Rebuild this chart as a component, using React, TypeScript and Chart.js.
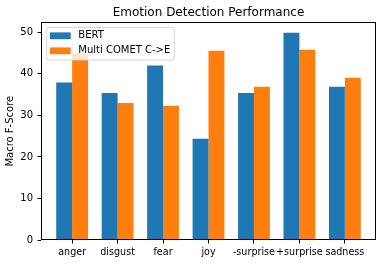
import React, { useEffect, useRef } from "react";
import { Chart, registerables } from "chart.js";

Chart.register(...registerables);

const categories = ["anger", "disgust", "fear", "joy", "-surprise", "+surprise", "sadness"];
const bertScores = [37.9, 35.4, 42.0, 24.4, 35.4, 49.9, 36.9];
const cometScores = [45.0, 33.0, 32.3, 45.6, 36.9, 45.8, 39.1];
const seriesLabels = ["BERT", "Multi COMET C->E"];
const seriesColors = ["#1f77b4", "#ff7f0e"];
const yTicks = [0, 10, 20, 30, 40, 50];
const yMax = 52.4;
const chartTitle = "Emotion Detection Performance";

const FONT = "'DejaVu Sans', sans-serif";

const framePlugin = {
  id: "frameAndLegend",
  afterDraw(chart: any) {
    const { ctx, chartArea } = chart;
    ctx.save();
    // axes frame
    const l = Math.round(chartArea.left) + 0.5;
    const t = Math.round(chartArea.top) + 0.5;
    const r = Math.round(chartArea.right) - 0.5;
    const b = Math.round(chartArea.bottom) - 0.5;
    ctx.strokeStyle = "#000";
    ctx.lineWidth = 1;
    ctx.strokeRect(l, t, r - l, b - t);

    // title centred over the axes
    ctx.font = `12px ${FONT}`;
    ctx.fillStyle = "#000";
    ctx.textAlign = "center";
    ctx.textBaseline = "middle";
    ctx.fillText(chartTitle, (chartArea.left + chartArea.right) / 2, chartArea.top - 9.6);

    // legend inside upper-left
    ctx.font = `10px ${FONT}`;
    const items = chart.data.datasets.map((d: any) => ({ label: d.label, color: d.backgroundColor }));
    const textW = Math.max(...items.map((i: any) => ctx.measureText(i.label).width));
    const x0 = chartArea.left + 5.7;
    const y0 = chartArea.top + 5;
    const padL = 3.3, handleW = 20.7, gap = 7.6, padR = 4;
    const rowH = 15, firstRow = 8.4, padB = 9.3;
    const w = padL + handleW + gap + textW + padR;
    const h = firstRow + rowH * (items.length - 1) + padB;
    const rad = 2.5;
    ctx.beginPath();
    ctx.moveTo(x0 + rad, y0);
    ctx.lineTo(x0 + w - rad, y0);
    ctx.arcTo(x0 + w, y0, x0 + w, y0 + rad, rad);
    ctx.lineTo(x0 + w, y0 + h - rad);
    ctx.arcTo(x0 + w, y0 + h, x0 + w - rad, y0 + h, rad);
    ctx.lineTo(x0 + rad, y0 + h);
    ctx.arcTo(x0, y0 + h, x0, y0 + h - rad, rad);
    ctx.lineTo(x0, y0 + rad);
    ctx.arcTo(x0, y0, x0 + rad, y0, rad);
    ctx.closePath();
    ctx.fillStyle = "rgba(255,255,255,0.8)";
    ctx.fill();
    ctx.strokeStyle = "rgba(204,204,204,0.8)";
    ctx.stroke();

    items.forEach((it: any, i: number) => {
      const cy = y0 + firstRow + i * rowH;
      ctx.fillStyle = it.color;
      ctx.fillRect(x0 + padL, cy - 3.4, handleW, 6.8);
      ctx.fillStyle = "#000";
      ctx.textBaseline = "middle";
      ctx.textAlign = "left";
      ctx.fillText(it.label, x0 + padL + handleW + gap, cy);
    });
    ctx.restore();
  },
};

export default function App() {
  const ref = useRef<HTMLCanvasElement>(null);
  useEffect(() => {
    if (!ref.current) return;
    Chart.defaults.font.family = FONT;
    const chart = new Chart(ref.current, {
      type: "bar",
      data: {
        datasets: [bertScores, cometScores].map((vals, s) => ({
          label: seriesLabels[s],
          data: vals.map((v, i) => ({ x: i, y: v })),
          backgroundColor: seriesColors[s],
          borderWidth: 0,
          categoryPercentage: 0.7,
          barPercentage: 1.0,
        })),
      },
      options: {
        responsive: false,
        animation: false,
        layout: { padding: { left: 0, right: 6, top: 22.4, bottom: 0 } },
        plugins: {
          legend: { display: false },
          tooltip: { enabled: false },
          title: { display: false },
        },
        scales: {
          x: {
            type: "linear",
            offset: false,
            min: -0.685,
            max: categories.length - 1 + 0.685,
            afterBuildTicks: (s: any) => {
              s.ticks = categories.map((_, i) => ({ value: i }));
            },
            afterFit: (s: any) => {
              s.height = 24;
            },
            ticks: {
              autoSkip: false,
              maxRotation: 0,
              color: "#000",
              font: { size: 9.6, family: FONT },
              padding: 3,
              callback: (v: any) => categories[Math.round(Number(v))] ?? "",
            },
            grid: { offset: false, drawOnChartArea: false, drawTicks: true, tickLength: 3.5, color: "#000" },
            border: { display: false },
          },
          y: {
            min: 0,
            max: yMax,
            afterBuildTicks: (s: any) => {
              s.ticks = yTicks.map((v) => ({ value: v }));
            },
            afterFit: (s: any) => {
              s.width = 41;
            },
            ticks: { color: "#000", font: { size: 10, family: FONT }, padding: 4.5 },
            grid: { drawOnChartArea: false, drawTicks: true, tickLength: 3.5, color: "#000" },
            border: { display: false },
            title: {
              display: true,
              text: "Macro F-Score",
              color: "#000",
              font: { size: 10, family: FONT },
              padding: { top: 4.5, bottom: 0 },
            },
          },
        },
      },
      plugins: [framePlugin],
    } as any);
    return () => chart.destroy();
  }, []);
  return (
    <div style={{ position: "fixed", left: 0, top: 0, width: 382, height: 264 }}>
      <canvas ref={ref} width={382} height={264} />
    </div>
  );
}
